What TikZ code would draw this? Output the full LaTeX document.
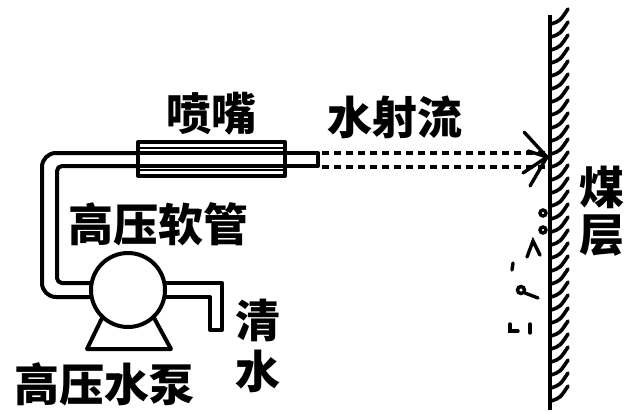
\documentclass[tikz,border=0pt]{standalone}
\usepackage{fontspec}
\newfontfamily\cjk{Noto Sans CJK SC}
\usepackage{tikz}

\tikzset{
  pipe/.style={line width=4pt, line join=round},
  jet/.style={line width=4pt, dash pattern=on 7pt off 5pt},
  hatch/.style={line width=3.6pt, line cap=round},
  chunk/.style={line width=3.4pt, line cap=round},
  lbl/.style={font=\cjk\bfseries\fontsize{45}{47}\selectfont, inner sep=0pt},
}

\begin{document}
\begin{tikzpicture}[x=1pt,y=-1pt]
  \useasboundingbox (0,0) rectangle (627,413);

  % hose, from nozzle down to pump
  \draw[pipe, rounded corners=14pt] (138,153) -- (42,153) -- (42,297) -- (128,297);
  \draw[pipe, rounded corners=5pt] (138,166) -- (57,166) -- (57,283) -- (128,283);

  % outlet into clean water
  \draw[pipe] (128,283) -- (222,283) -- (222,330) -- (210,330) -- (210,297) -- (128,297);

  % pump with its base
  \draw[pipe] (103,316) -- (87,349) -- (171,349) -- (153,316);
  \coordinate (pumpc) at (128,290);
  \draw[pipe, fill=white] (pumpc) circle[radius=37];

  % nozzle and tip
  \draw[pipe, fill=white] (138,142) rectangle (285,176);
  \draw[line width=2pt] (138,148) -- (285,148) (138,170) -- (285,170);
  \draw[pipe] (138,153) -- (285,153) (138,166) -- (285,166);
  \draw[pipe] (285,153) rectangle (318,166);

  % water jet
  \coordinate (hit) at (547,157);
  \draw[jet] (322,153) -- (545,153);
  \draw[jet] (322,167) -- (545,167);

  % coal seam
  \draw[line width=4pt] (550,15) -- (550,410);
  \foreach \y in {24,37,...,408}
    \draw[hatch] (551,\y) .. controls (560,\y-3) .. (568,\y-15);

  % splash at the face and broken coal
  \draw[chunk] (hit) -- (524,132);
  \draw[chunk] (hit) -- (528,151);
  \draw[chunk] (hit) -- (523,173);
  \draw[chunk] (hit) -- (530,186);
  \draw[chunk] (543,213) circle[radius=3];
  \draw[chunk] (543,230) circle[radius=3];
  \draw[chunk] (527,257) -- (533,241) -- (540,255);
  \draw[chunk] (513,263) -- (512,270);
  \draw[chunk] (521,290) circle[radius=3.5];
  \draw[chunk] (525,293) -- (538,298);
  \draw[chunk] (510,324) -- (510,331) -- (518,331);
  \draw[chunk] (530,324) -- (530,333);

  % labels
  \node[lbl] (pennzui) at (211,114) {喷嘴};
  \node[lbl] (shesheliu) at (395,117) {水射流};
  \node[lbl] (ruanguan) at (158,224) {高压软管};
  \node[lbl] (shuibeng) at (105,384) {高压水泵};
  \node[lbl, align=center] (qingshui) at (258,346) {清\\[4pt]水};
  \node[lbl, align=center] (meiceng) at (602,211) {煤\\层};
\end{tikzpicture}
\end{document}
